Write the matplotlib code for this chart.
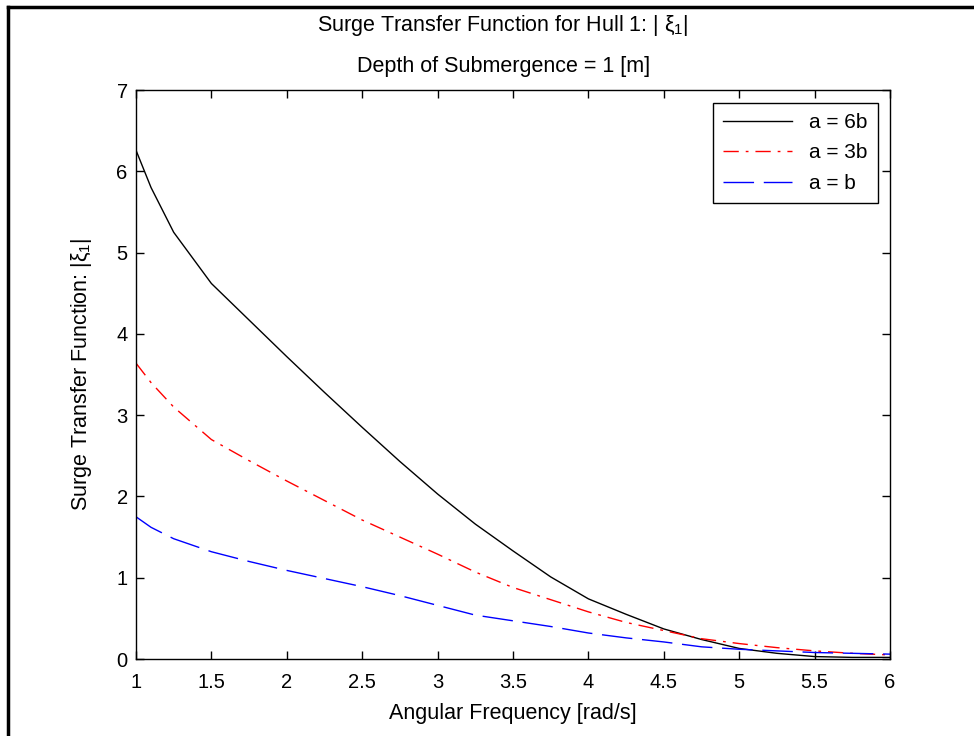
import numpy as np
import matplotlib
matplotlib.use("Agg")
import matplotlib.pyplot as plt
from matplotlib.lines import Line2D

plt.rcParams['font.family'] = ['Liberation Sans', 'DejaVu Sans']
plt.rcParams['mathtext.fontset'] = 'custom'
plt.rcParams['mathtext.rm'] = 'Liberation Sans'
plt.rcParams['mathtext.it'] = 'Liberation Sans'

# angular frequency [rad/s]
omega = [1.0, 1.1, 1.25, 1.5, 1.75, 2.0, 2.25, 2.5, 2.75, 3.0, 3.25, 3.5,
         3.75, 4.0, 4.25, 4.5, 4.75, 5.0, 5.25, 5.5, 5.75, 6.0]

# |xi_1| for each hull shape
xi_6b = [6.26, 5.80, 5.25, 4.62, 4.17, 3.72, 3.28, 2.85, 2.43, 2.03, 1.66, 1.33,
         1.01, 0.74, 0.55, 0.37, 0.24, 0.13, 0.07, 0.03, 0.02, 0.02]
xi_3b = [3.64, 3.40, 3.10, 2.70, 2.44, 2.19, 1.95, 1.71, 1.50, 1.29, 1.07, 0.88,
         0.73, 0.58, 0.45, 0.35, 0.25, 0.19, 0.14, 0.10, 0.07, 0.05]
xi_1b = [1.75, 1.62, 1.48, 1.32, 1.20, 1.09, 0.99, 0.89, 0.78, 0.66, 0.54, 0.47,
         0.40, 0.32, 0.26, 0.21, 0.15, 0.12, 0.10, 0.08, 0.07, 0.06]

labels = ['a = 6b', 'a = 3b', 'a = b']

fig = plt.figure(figsize=(9.74, 7.36), dpi=100)
ax = fig.add_axes([0.1396, 0.1046, 0.7742, 0.7731])

ax.plot(omega, xi_6b, color='k', lw=1.0, label=labels[0])
ax.plot(omega, xi_3b, color='r', lw=1.0, linestyle=(0, (11, 5, 2, 5)), label=labels[1])
ax.plot(omega, xi_1b, color='b', lw=1.0, linestyle=(0, (22, 7)), label=labels[2])

ax.set_xlim(1, 6)
ax.set_ylim(0, 7)
ax.set_xticks(np.arange(1, 6.01, 0.5))
ax.set_xticklabels(['1', '1.5', '2', '2.5', '3', '3.5', '4', '4.5', '5', '5.5', '6'])
ax.set_yticks(range(0, 8))
ax.tick_params(direction='in', top=True, right=True, length=6, width=1,
               labelsize=14.5)
ax.tick_params(axis='x', pad=10)
ax.tick_params(axis='y', pad=6)
for s in ax.spines.values():
    s.set_linewidth(1.0)

ax.set_xlabel('Angular Frequency [rad/s]', fontsize=15.5, labelpad=8)
ax.set_ylabel(r'Surge Transfer Function: |$\xi_1$|', fontsize=15.5, labelpad=16)

fig.text(0.5165, 0.966, r'Surge Transfer Function for Hull 1: | $\xi_1$|',
         ha='center', va='center', fontsize=15.5)
fig.text(0.5165, 0.91, 'Depth of Submergence = 1 [m]',
         ha='center', va='center', fontsize=15.5)

leg = ax.legend(loc='upper right', fontsize=15, fancybox=False, framealpha=1,
                edgecolor='k', handlelength=3.3, borderpad=0.5,
                labelspacing=0.55, borderaxespad=0.6)
leg.get_frame().set_linewidth(1.0)

# figure frame (left and top edges)
fig.add_artist(Line2D([0.008, 0.008], [0, 0.99], transform=fig.transFigure,
                      color='k', lw=2.5))
fig.add_artist(Line2D([0.008, 1.0], [0.99, 0.99], transform=fig.transFigure,
                      color='k', lw=2.5))

fig.savefig('out.png', dpi=100)
